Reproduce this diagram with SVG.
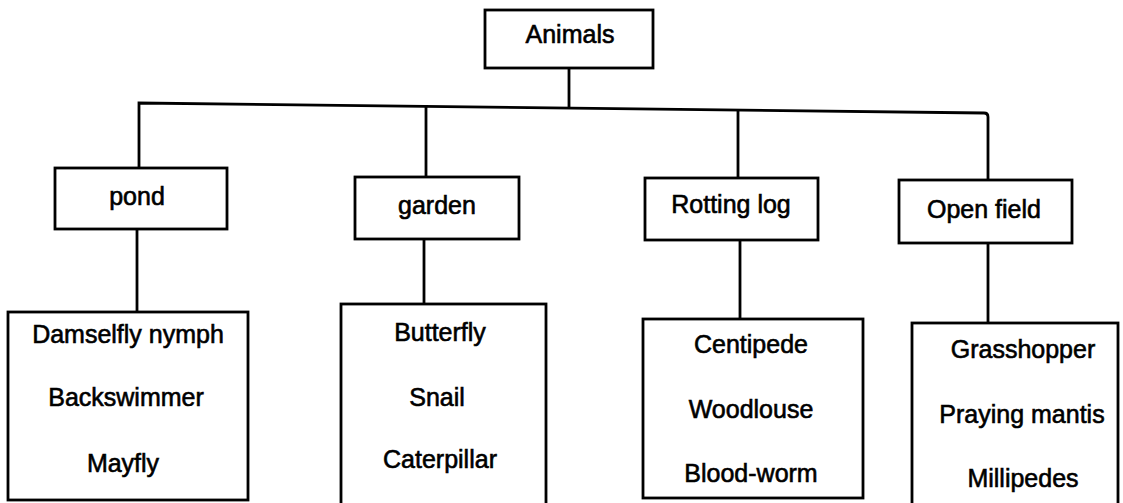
<svg xmlns="http://www.w3.org/2000/svg" width="1123" height="503" viewBox="0 0 1123 503">
<style>
.box{fill:#fff;stroke:#000;stroke-width:2.8}
.ln{fill:none;stroke:#000;stroke-width:2.8}
text{font-family:"Liberation Sans",Arial,sans-serif;font-size:25px;fill:#000;stroke:#000;stroke-width:0.6;text-anchor:middle}
</style>
<rect width="1123" height="503" fill="#fff"/>
<g id="connectors">
<path class="ln" d="M569 68 V108"/>
<path class="ln" d="M139 168 V103 L984 113 Q988 113 988 117 V180"/>
<path class="ln" d="M426 106 V177"/>
<path class="ln" d="M738 111 V178"/>
<path class="ln" d="M137 229 V312"/>
<path class="ln" d="M424 239 V304"/>
<path class="ln" d="M740 240 V319"/>
<path class="ln" d="M988 243 V323"/>
</g>
<g id="animals">
<rect class="box" x="485" y="10" width="168" height="58"/>
<text x="570" y="43">Animals</text>
</g>
<g id="pond">
<rect class="box" x="55" y="168" width="172" height="61"/>
<text x="137" y="205">pond</text>
</g>
<g id="garden">
<rect class="box" x="355" y="177" width="164" height="62"/>
<text x="437" y="214">garden</text>
</g>
<g id="rotting-log">
<rect class="box" x="645" y="178" width="173" height="62"/>
<text x="731" y="213">Rotting log</text>
</g>
<g id="open-field">
<rect class="box" x="899" y="180" width="173" height="63"/>
<text x="984" y="218">Open field</text>
</g>
<g id="pond-animals">
<rect class="box" x="8" y="312" width="240" height="188"/>
<text x="128" y="343">Damselfly nymph</text>
<text x="126" y="406">Backswimmer</text>
<text x="123" y="472">Mayfly</text>
</g>
<g id="garden-animals">
<rect class="box" x="341" y="304" width="205" height="210"/>
<text x="440" y="341">Butterfly</text>
<text x="437" y="406">Snail</text>
<text x="440" y="468">Caterpillar</text>
</g>
<g id="rotting-log-animals">
<rect class="box" x="643" y="319" width="220" height="179"/>
<text x="751" y="353">Centipede</text>
<text x="751" y="418">Woodlouse</text>
<text x="751" y="482">Blood-worm</text>
</g>
<g id="open-field-animals">
<rect class="box" x="912" y="323" width="206" height="190"/>
<text x="1023" y="358">Grasshopper</text>
<text x="1022" y="423">Praying mantis</text>
<text x="1023" y="487">Millipedes</text>
</g>
</svg>
